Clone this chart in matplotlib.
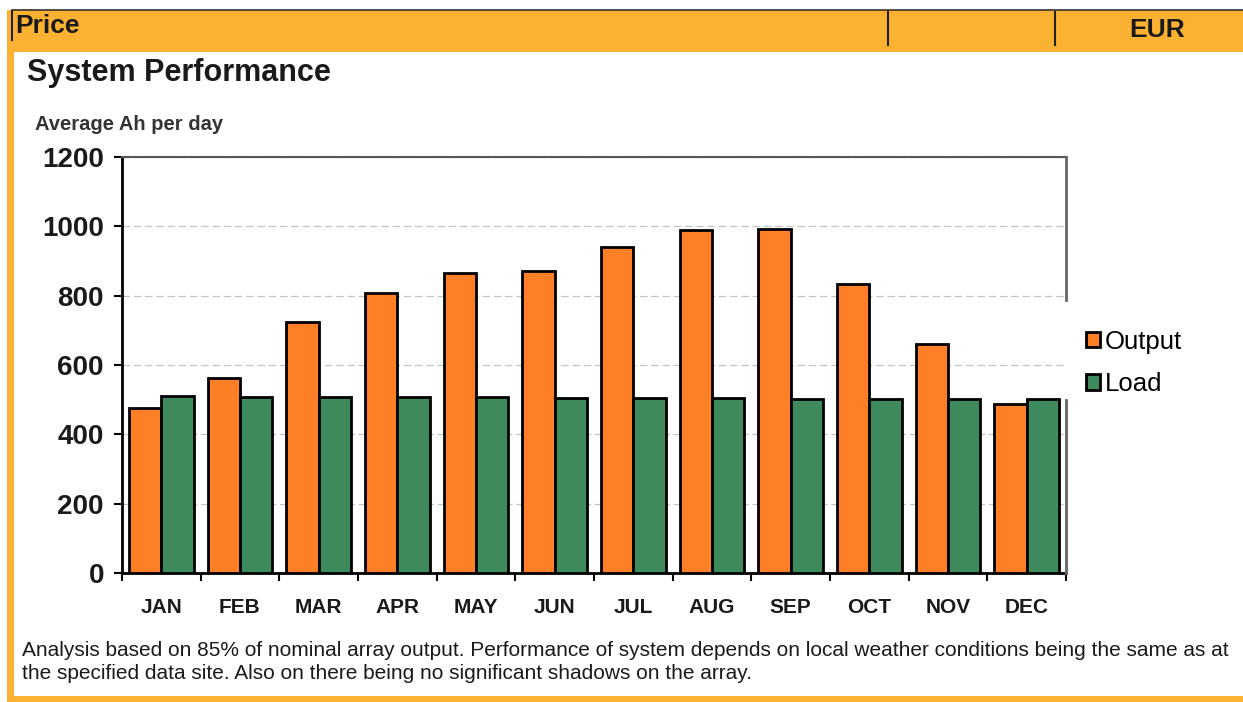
import matplotlib.pyplot as plt
import numpy as np
from matplotlib.patches import Rectangle
from matplotlib.lines import Line2D

plt.rcParams['font.family'] = ['Liberation Sans', 'DejaVu Sans']

meses = ["JAN", "FEB", "MAR", "APR", "MAY", "JUN", "JUL", "AUG", "SEP", "OCT", "NOV", "DEC"]
output = [475, 563, 723, 809, 866, 871, 940, 990, 993, 835, 662, 488]
load = [511, 509, 509, 508, 507, 506, 505, 504, 503, 502, 501, 501]
yticks = [0, 200, 400, 600, 800, 1000, 1200]

naranja = "#FF7F27"
verde = "#3E8A5C"
banda = "#FBB232"

W, H = 1243, 702
fig = plt.figure(figsize=(W / 100, H / 100), dpi=100)
fig.patch.set_facecolor("white")

def fx(x):
    return x / W

def fy(y):
    return 1 - y / H

# cabecera y bordes naranjas
fig.patches.append(Rectangle((fx(7), fy(52)), 1 - fx(7), 42 / H, transform=fig.transFigure,
                             facecolor=banda, edgecolor="none", zorder=0))
fig.patches.append(Rectangle((fx(7), fy(698)), 7 / W, 646 / H, transform=fig.transFigure,
                             facecolor=banda, edgecolor="none", zorder=0))
fig.patches.append(Rectangle((fx(7), 0), 1 - fx(7), 6 / H, transform=fig.transFigure,
                             facecolor=banda, edgecolor="none", zorder=0))
fig.lines.append(Line2D([fx(12), 1], [fy(10), fy(10)], transform=fig.transFigure, color="#333333", lw=1.2))
fig.lines.append(Line2D([fx(12), fx(12)], [fy(11), fy(40)], transform=fig.transFigure, color="#222222", lw=1.5))
for xl in [888, 1055]:
    fig.lines.append(Line2D([fx(xl), fx(xl)], [fy(12), fy(45)], transform=fig.transFigure, color="#222222", lw=1.5))

fig.text(fx(15), fy(26), "Price", fontsize=19, fontweight="bold", va="center", ha="left", color="#1a1a1a")
fig.text(fx(1185), fy(30), "EUR", fontsize=19, fontweight="bold", va="center", ha="right", color="#1a1a1a")
fig.text(fx(27), fy(73), "System Performance", fontsize=22, fontweight="bold", va="center", ha="left", color="#1a1a1a")
fig.text(fx(35), fy(124), "Average Ah per day", fontsize=14.5, fontweight="bold", va="center", ha="left", color="#333333")

nota = ("Analysis based on 85% of nominal array output. Performance of system depends on local weather conditions being the same as at\n"
        "the specified data site. Also on there being no significant shadows on the array.")
fig.text(fx(22), fy(662), nota, fontsize=15, va="center", ha="left", color="#1a1a1a", linespacing=1.25)

# grafico
ax = fig.add_axes([fx(122), fy(573), (1066 - 122) / W, (573 - 157) / H])
x = np.arange(len(meses))
ancho = 0.41
ax.bar(x - ancho / 2, output, ancho, color=naranja, edgecolor="black", linewidth=2, label="Output", zorder=3)
ax.bar(x + ancho / 2, load, ancho, color=verde, edgecolor="black", linewidth=2, label="Load", zorder=3)

ax.set_xlim(-0.5, len(meses) - 0.5)
ax.set_ylim(0, 1200)
ax.set_yticks(yticks)
ax.set_yticklabels([str(v) for v in yticks], fontsize=20, fontweight="bold", color="#1a1a1a")
ax.tick_params(axis="y", length=6, width=1.5, pad=7)
ax.set_xticks(x)
ax.set_xticklabels(meses, fontsize=15, fontweight="bold", color="#1a1a1a")
ax.tick_params(axis="x", length=0, pad=18)
ax.set_xticks(np.arange(len(meses) + 1) - 0.5, minor=True)
ax.tick_params(axis="x", which="minor", length=6, width=1.5)
ax.yaxis.grid(True, color="#c4c4c4", linestyle=(0, (6, 3)), linewidth=0.9, zorder=0)
ax.set_axisbelow(True)

ax.spines["left"].set_linewidth(2)
ax.spines["bottom"].set_linewidth(2)
ax.spines["top"].set_color("#555555")
ax.spines["top"].set_linewidth(1.5)
# borde derecho cortado detras de la leyenda
ax.spines["right"].set_visible(False)
ax.plot([1, 1], [0, 0.416], transform=ax.transAxes, color="#666666", lw=2, clip_on=False, zorder=4)
ax.plot([1, 1], [0.656, 1], transform=ax.transAxes, color="#666666", lw=2, clip_on=False, zorder=4)

leg = ax.legend(loc="upper left", bbox_to_anchor=(fx(1060), fy(304)), bbox_transform=fig.transFigure,
                fontsize=18.5, frameon=False,
                handlelength=0.55, handleheight=0.55, handletextpad=0.2, labelspacing=0.72,
                borderpad=1.0, borderaxespad=0)
for h in leg.legend_handles:
    h.set_linewidth(2)

plt.savefig("out.png", dpi=100)
